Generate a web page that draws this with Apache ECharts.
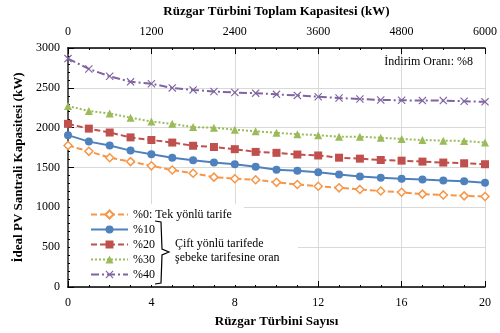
<!DOCTYPE html>
<html>
<head>
<meta charset="utf-8">
<script src="https://cdn.jsdelivr.net/npm/echarts@6/dist/echarts.min.js"></script>
<style>
    html, body { margin: 0; padding: 0; background: #fff; }
    #chart { width: 500px; height: 333px; }
</style>
</head>
<body>
<div id="chart"></div>
<script>
// turbine counts on the bottom axis
var turbineCounts = [0, 1, 2, 3, 4, 5, 6, 7, 8, 9, 10, 11, 12, 13, 14, 15, 16, 17, 18, 19, 20];
var seriesNames = ['%0: Tek yönlü tarife', '%10', '%20', '%30', '%40'];

// ideal PV capacity (kW)
var pv0 = [1776, 1703, 1623, 1574, 1521, 1468, 1428, 1379, 1359, 1347, 1314, 1286, 1265, 1245, 1225, 1205, 1189, 1166, 1156, 1144, 1136];
var pv10 = [1906, 1825, 1776, 1712, 1667, 1623, 1590, 1562, 1541, 1509, 1472, 1460, 1440, 1411, 1387, 1371, 1359, 1350, 1338, 1326, 1310];
var pv20 = [2048, 1988, 1939, 1878, 1845, 1813, 1773, 1757, 1730, 1696, 1684, 1663, 1651, 1623, 1611, 1594, 1586, 1574, 1562, 1553, 1541];
var pv30 = [2271, 2210, 2178, 2125, 2077, 2048, 2007, 2000, 1975, 1955, 1935, 1918, 1906, 1886, 1886, 1874, 1858, 1845, 1837, 1833, 1813];
var pv40 = [2867, 2737, 2645, 2575, 2551, 2499, 2474, 2454, 2441, 2433, 2418, 2405, 2389, 2372, 2360, 2348, 2344, 2340, 2340, 2332, 2324];

var colors = ['#F79646', '#4F81BD', '#C0504D', '#9BBB59', '#8064A2'];
var serif = '"Liberation Serif", "DejaVu Serif", serif';
var xMark = 'path://M0,1L1,0L5,4L9,0L10,1L6,5L10,9L9,10L5,6L1,10L0,9L4,5Z';

function pairs(values) {
    return turbineCounts.map(function (t, i) { return [t, values[i]]; });
}
function plain(v) { return String(v); }

var dom = document.getElementById('chart');
var chart = echarts.init(dom, null, { renderer: 'canvas' });

var option = {
    animation: false,
    color: colors,
    textStyle: { fontFamily: serif },
    grid: { left: 68, right: 12, top: 45, bottom: 42 },
    legend: {
        orient: 'vertical',
        left: 70,
        top: 204,
        padding: [4, 12, 4, 20],
        backgroundColor: '#fff',
        itemWidth: 37,
        itemHeight: 10,
        itemGap: 2,
        data: seriesNames,
        textStyle: { fontFamily: serif, fontSize: 12, color: '#000', lineHeight: 13 }
    },
    xAxis: [
        {
            type: 'value',
            min: 0,
            max: 20,
            interval: 4,
            name: 'Rüzgar Türbini Sayısı',
            nameLocation: 'middle',
            nameGap: 28,
            nameTextStyle: { fontFamily: serif, fontWeight: 'bold', fontSize: 13, color: '#000' },
            axisLine: { onZero: false, lineStyle: { color: '#000', width: 1.5 } },
            axisTick: { inside: true, length: 6, lineStyle: { color: '#000' } },
            minorTick: { show: true, splitNumber: 4, length: 2, lineStyle: { color: '#000' } },
            axisLabel: { fontFamily: serif, fontSize: 12, color: '#000', margin: 10, formatter: plain },
            splitLine: { show: true, lineStyle: { color: '#d9d9d9' } }
        },
        {
            type: 'value',
            position: 'top',
            min: 0,
            max: 6000,
            interval: 1200,
            name: 'Rüzgar Türbini Toplam Kapasitesi (kW)',
            nameLocation: 'middle',
            nameGap: 30,
            nameTextStyle: { fontFamily: serif, fontWeight: 'bold', fontSize: 13, color: '#000' },
            axisLine: { onZero: false, lineStyle: { color: '#000', width: 1.5 } },
            axisTick: { inside: true, length: 6, lineStyle: { color: '#000' } },
            minorTick: { show: true, splitNumber: 4, length: 2, lineStyle: { color: '#000' } },
            axisLabel: { fontFamily: serif, fontSize: 12, color: '#000', margin: 10, formatter: plain },
            splitLine: { show: false }
        }
    ],
    yAxis: [
        {
            type: 'value',
            min: 0,
            max: 3000,
            interval: 500,
            name: 'İdeal PV Santrali Kapasitesi (kW)',
            nameLocation: 'middle',
            nameGap: 34,
            nameTextStyle: { fontFamily: serif, fontWeight: 'bold', fontSize: 13, color: '#000' },
            axisLine: { show: true, onZero: false, lineStyle: { color: '#000', width: 1.5 } },
            axisTick: { show: true, inside: true, length: 6, lineStyle: { color: '#000' } },
            minorTick: { show: true, splitNumber: 5, length: 2, lineStyle: { color: '#000' } },
            axisLabel: { fontFamily: serif, fontSize: 12, color: '#000', margin: 8, formatter: plain },
            splitLine: { show: true, lineStyle: { color: '#d9d9d9' } }
        },
        {
            type: 'value',
            position: 'right',
            min: 0,
            max: 3000,
            interval: 500,
            axisLine: { show: true, lineStyle: { color: '#666', width: 1.5 } },
            axisTick: { show: false },
            axisLabel: { show: false },
            splitLine: { show: false }
        }
    ],
    series: [
        {
            name: seriesNames[0],
            type: 'line',
            data: pairs(pv0),
            symbol: 'diamond',
            symbolSize: 8,
            itemStyle: { color: '#fff', borderColor: colors[0], borderWidth: 1.5 },
            lineStyle: { color: colors[0], width: 2, type: [6, 3] }
        },
        {
            name: seriesNames[1],
            type: 'line',
            data: pairs(pv10),
            symbol: 'circle',
            symbolSize: 8,
            itemStyle: { color: colors[1] },
            lineStyle: { color: colors[1], width: 2 }
        },
        {
            name: seriesNames[2],
            type: 'line',
            data: pairs(pv20),
            symbol: 'rect',
            symbolSize: 8,
            itemStyle: { color: colors[2] },
            lineStyle: { color: colors[2], width: 2, type: [6, 3] }
        },
        {
            name: seriesNames[3],
            type: 'line',
            data: pairs(pv30),
            symbol: 'triangle',
            symbolSize: 8,
            itemStyle: { color: colors[3] },
            lineStyle: { color: colors[3], width: 2, type: [2, 2] }
        },
        {
            name: seriesNames[4],
            type: 'line',
            data: pairs(pv40),
            symbol: xMark,
            symbolSize: 8,
            itemStyle: { color: colors[4] },
            lineStyle: { color: colors[4], width: 2, type: [8, 3, 2, 3] }
        }
    ],
    graphic: [
        {
            type: 'rect',
            z: 3,
            shape: { x: 168, y: 236, width: 130, height: 32 },
            style: { fill: '#fff' }
        },
        {
            type: 'polyline',
            z: 10,
            shape: { points: [[155, 221], [161, 222], [162, 249], [169, 252], [162, 255], [161, 283], [155, 284]] },
            style: { stroke: '#000', fill: null, lineWidth: 1.2 }
        },
        {
            type: 'text',
            z: 10,
            left: 175,
            top: 238,
            style: { text: 'Çift yönlü tarifede', font: '12px ' + serif, fill: '#000' }
        },
        {
            type: 'text',
            z: 10,
            left: 175,
            top: 252,
            style: { text: 'şebeke tarifesine oran', font: '12px ' + serif, fill: '#000' }
        },
        {
            type: 'text',
            z: 10,
            right: 27,
            top: 56,
            style: { text: 'İndirim Oranı: %8', font: '12px ' + serif, fill: '#000' }
        }
    ]
};

chart.setOption(option);
window.addEventListener('resize', chart.resize);
</script>
</body>
</html>
